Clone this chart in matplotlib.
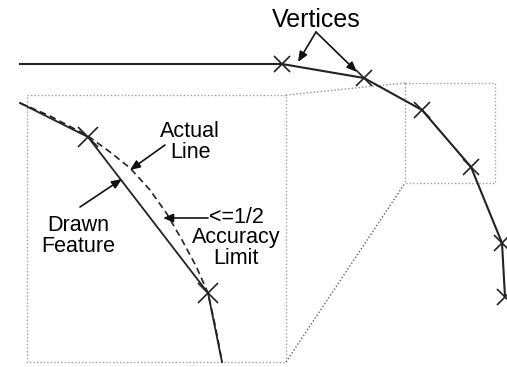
import matplotlib.pyplot as plt

# main feature line (pixel coords, y down)
main_x = [20, 282, 364, 422, 471, 502, 505]
main_y = [64, 64, 78, 110, 167, 243, 297]
vert_x = [282, 364, 422, 471, 502, 505]
vert_y = [64, 78, 110, 167, 243, 297]

# zoomed-in view
drawn_x = [20, 88, 208, 222]
drawn_y = [103, 137, 293, 362]
zvert_x = [88, 208]
zvert_y = [137, 293]
actual_x = [20, 50, 88, 110, 130, 150, 167, 182, 196, 208, 214, 219, 222]
actual_y = [103, 116, 136, 152, 168, 190, 214, 240, 266, 293, 320, 345, 362]

# detail boxes and connectors
small_box = (405, 83, 495, 183)
big_box = (27, 95, 286, 362)

fig = plt.figure(figsize=(5.07, 3.67), dpi=100)
ax = fig.add_axes([0, 0, 1, 1])
ax.set_xlim(0, 507)
ax.set_ylim(367, 0)
ax.axis('off')

plt.rcParams['font.family'] = ['Liberation Sans', 'DejaVu Sans']

def box(b):
    x0, y0, x1, y1 = b
    ax.plot([x0, x1, x1, x0, x0], [y0, y0, y1, y1, y0], color='#a0a0a0',
            lw=1, linestyle=(0, (1, 1.5)))

box(small_box)
box(big_box)
ax.plot([big_box[2], small_box[0]], [big_box[1], small_box[1]], color='#909090',
        lw=1, linestyle=(0, (1, 1.5)))
ax.plot([big_box[2], small_box[0]], [big_box[3], small_box[3]], color='#606060',
        lw=1, linestyle=(0, (1, 1.5)))

ax.plot(main_x, main_y, color='#222222', lw=1.5)
ax.plot(vert_x, vert_y, 'x', color='#222222', ms=12, mew=1.2)

ax.plot(actual_x, actual_y, color='#222222', lw=1.2, linestyle=(0, (4, 2.5)))
ax.plot(drawn_x, drawn_y, color='#222222', lw=1.3)
ax.plot(zvert_x, zvert_y, 'x', color='#222222', ms=14, mew=1.2)

arr = dict(arrowstyle='-|>,head_length=0.6,head_width=0.25', color='#111111', lw=1.2,
           shrinkA=0, shrinkB=0)

ax.text(316, 20, 'Vertices', fontsize=18, ha='center', va='center')
ax.annotate('', xy=(298, 62), xytext=(316, 32), arrowprops=arr)
ax.annotate('', xy=(357, 72), xytext=(316, 32), arrowprops=arr)

ax.text(190, 142, 'Actual\nLine', fontsize=15.5, ha='center', va='center',
        linespacing=0.95)
ax.annotate('', xy=(130, 170), xytext=(165, 145), arrowprops=arr)

ax.text(78, 236, 'Drawn\nFeature', fontsize=15.5, ha='center', va='center',
        linespacing=0.95)
ax.annotate('', xy=(122, 179), xytext=(80, 207), arrowprops=arr)

ax.text(236, 238, '<=1/2\nAccuracy\nLimit', fontsize=15.5, ha='center', va='center',
        linespacing=0.95)
ax.annotate('', xy=(163, 218), xytext=(208, 218), arrowprops=arr)

fig.savefig('out.png', dpi=100)
